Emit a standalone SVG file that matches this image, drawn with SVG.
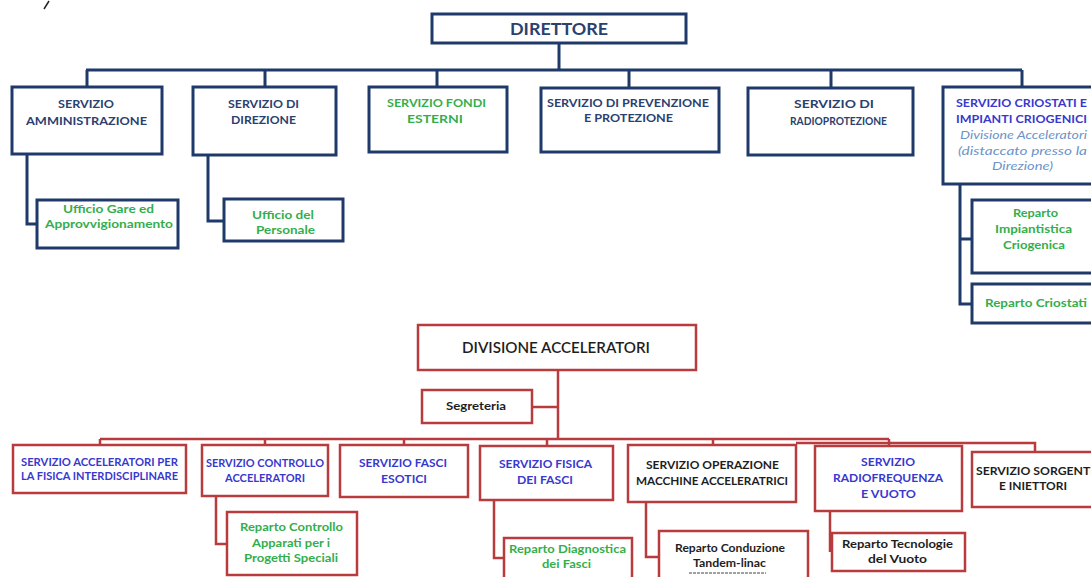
<svg xmlns="http://www.w3.org/2000/svg" width="1091" height="577" viewBox="0 0 1091 577">
<style>
.nb{fill:#fff;stroke:#1F3A6A;stroke-width:3}
.rb{fill:#fff;stroke:#B83B3E;stroke-width:2.5}
.nc{fill:none;stroke:#1F3A6A;stroke-width:3}
.rc{fill:none;stroke:#B83B3E;stroke-width:2.5}
text{font-family:Lato,"Liberation Sans",sans-serif;font-weight:bold;font-size:12px;text-anchor:middle}
.nv{fill:#2A4170}
.gr{fill:#34AE4C}
.bl{fill:#3838CF}
.bk{fill:#1E1E1E}
.it{fill:#6C93C9;font-style:italic;font-weight:normal}
</style>
<rect width="1091" height="577" fill="#fff"/>
<line x1="44" y1="9" x2="49" y2="1" stroke="#222" stroke-width="1.5"/>
<g id="connectors">
<path class="nc" d="M559,43V70M86,70H1022M87,70V87M265,70V87M437,70V87M629,70V88M831,70V88M1022,70V87"/>
<path class="nc" d="M27,154V224H37M208,155V221H224M960,184V304H972M960,239H972"/>
<path class="rc" d="M558,370V439M532,407H558M100,439H889M100,439V445M265,439V445M404,439V445M547,439V446M713,439V445M889,439V446M796,443H1035V452"/>
<path class="rc" d="M216,496V544H227M494,500V558H504M646,502V557H659M830,511V552"/>
</g>
<g id="direttore"><rect class="nb" x="432" y="14" width="254" height="29"/><text class="nv" x="559" y="35" style="font-size:17px" textLength="98" lengthAdjust="spacingAndGlyphs">DIRETTORE</text></g>
<g id="amministrazione"><rect class="nb" x="12" y="87" width="150" height="67"/><text class="nv" x="86" y="108" textLength="56" lengthAdjust="spacingAndGlyphs">SERVIZIO</text><text class="nv" x="86.5" y="125" textLength="121" lengthAdjust="spacingAndGlyphs">AMMINISTRAZIONE</text></g>
<g id="direzione"><rect class="nb" x="193" y="87" width="143" height="68"/><text class="nv" x="263.5" y="108" textLength="71" lengthAdjust="spacingAndGlyphs">SERVIZIO DI</text><text class="nv" x="263.5" y="124" textLength="65" lengthAdjust="spacingAndGlyphs">DIREZIONE</text></g>
<g id="fondi"><rect class="nb" x="369" y="87" width="138" height="65"/><text class="gr" x="436.5" y="107" textLength="99" lengthAdjust="spacingAndGlyphs">SERVIZIO FONDI</text><text class="gr" x="435" y="123" textLength="56" lengthAdjust="spacingAndGlyphs">ESTERNI</text></g>
<g id="prevenzione"><rect class="nb" x="541" y="88" width="178" height="64"/><text class="nv" x="628" y="107" textLength="162" lengthAdjust="spacingAndGlyphs">SERVIZIO DI PREVENZIONE</text><text class="nv" x="628.5" y="122" textLength="89" lengthAdjust="spacingAndGlyphs">E PROTEZIONE</text></g>
<g id="radioprotezione"><rect class="nb" x="748" y="88" width="165" height="67"/><text class="nv" x="834" y="108" textLength="80" lengthAdjust="spacingAndGlyphs">SERVIZIO DI</text><text class="nv" x="838.5" y="125" textLength="97" lengthAdjust="spacingAndGlyphs">RADIOPROTEZIONE</text></g>
<g id="criostati"><rect class="nb" x="943" y="87" width="160" height="97"/><text class="bl" x="1021.5" y="107" textLength="131" lengthAdjust="spacingAndGlyphs">SERVIZIO CRIOSTATI E</text><text class="bl" x="1021.5" y="123" textLength="131" lengthAdjust="spacingAndGlyphs">IMPIANTI CRIOGENICI</text><text class="it" x="1023.5" y="139" textLength="127" lengthAdjust="spacingAndGlyphs">Divisione Acceleratori</text><text class="it" x="1022.5" y="155" textLength="129" lengthAdjust="spacingAndGlyphs">(distaccato presso la</text><text class="it" x="1022.5" y="170" textLength="61" lengthAdjust="spacingAndGlyphs">Direzione)</text></g>
<g id="ufficio-gare"><rect class="nb" x="37" y="200" width="141" height="48"/><text class="gr" x="108.5" y="213" textLength="91" lengthAdjust="spacingAndGlyphs">Ufficio Gare ed</text><text class="gr" x="109" y="228" textLength="128" lengthAdjust="spacingAndGlyphs">Approvvigionamento</text></g>
<g id="ufficio-personale"><rect class="nb" x="224" y="199" width="119" height="42"/><text class="gr" x="283" y="219" textLength="62" lengthAdjust="spacingAndGlyphs">Ufficio del</text><text class="gr" x="285.5" y="234" textLength="59" lengthAdjust="spacingAndGlyphs">Personale</text></g>
<g id="reparto-impiantistica"><rect class="nb" x="972" y="200" width="130" height="73"/><text class="gr" x="1035.5" y="217" textLength="45" lengthAdjust="spacingAndGlyphs">Reparto</text><text class="gr" x="1033.5" y="233" textLength="77" lengthAdjust="spacingAndGlyphs">Impiantistica</text><text class="gr" x="1034" y="249" textLength="62" lengthAdjust="spacingAndGlyphs">Criogenica</text></g>
<g id="reparto-criostati"><rect class="nb" x="972" y="284" width="130" height="39"/><text class="gr" x="1036" y="307" textLength="102" lengthAdjust="spacingAndGlyphs">Reparto Criostati</text></g>
<g id="divisione"><rect class="rb" x="418" y="325" width="278" height="45"/><text class="bk" x="556" y="353" style="font-size:16px;font-weight:600" textLength="188" lengthAdjust="spacingAndGlyphs">DIVISIONE ACCELERATORI</text></g>
<g id="segreteria"><rect class="rb" x="422" y="390" width="110" height="33"/><text class="bk" x="476" y="410" textLength="60" lengthAdjust="spacingAndGlyphs">Segreteria</text></g>
<g id="fisica-interdisciplinare"><rect class="rb" x="13" y="445" width="173" height="48"/><text class="bl" x="99.5" y="466" textLength="157" lengthAdjust="spacingAndGlyphs">SERVIZIO ACCELERATORI PER</text><text class="bl" x="99.5" y="480" textLength="157" lengthAdjust="spacingAndGlyphs">LA FISICA INTERDISCIPLINARE</text></g>
<g id="controllo"><rect class="rb" x="202" y="445" width="126" height="51"/><text class="bl" x="265" y="467" textLength="118" lengthAdjust="spacingAndGlyphs">SERVIZIO CONTROLLO</text><text class="bl" x="265" y="482" textLength="80" lengthAdjust="spacingAndGlyphs">ACCELERATORI</text></g>
<g id="reparto-controllo"><rect class="rb" x="227" y="512" width="130" height="63"/><text class="gr" x="291.5" y="531" textLength="103" lengthAdjust="spacingAndGlyphs">Reparto Controllo</text><text class="gr" x="291" y="547" textLength="78" lengthAdjust="spacingAndGlyphs">Apparati per i</text><text class="gr" x="291" y="562" textLength="94" lengthAdjust="spacingAndGlyphs">Progetti Speciali</text></g>
<g id="fasci-esotici"><rect class="rb" x="340" y="445" width="128" height="52"/><text class="bl" x="403" y="467" textLength="88" lengthAdjust="spacingAndGlyphs">SERVIZIO FASCI</text><text class="bl" x="404" y="483" textLength="46" lengthAdjust="spacingAndGlyphs">ESOTICI</text></g>
<g id="fisica-fasci"><rect class="rb" x="480" y="446" width="133" height="54"/><text class="bl" x="545.5" y="468" textLength="93" lengthAdjust="spacingAndGlyphs">SERVIZIO FISICA</text><text class="bl" x="545" y="484" textLength="56" lengthAdjust="spacingAndGlyphs">DEI FASCI</text></g>
<g id="reparto-diagnostica"><rect class="rb" x="504" y="538" width="128" height="52"/><text class="gr" x="567.5" y="553" textLength="117" lengthAdjust="spacingAndGlyphs">Reparto Diagnostica</text><text class="gr" x="566.5" y="568" textLength="49" lengthAdjust="spacingAndGlyphs">dei Fasci</text></g>
<g id="operazione"><rect class="rb" x="628" y="445" width="168" height="57"/><text class="bk" x="712.5" y="469" textLength="133" lengthAdjust="spacingAndGlyphs">SERVIZIO OPERAZIONE</text><text class="bk" x="712" y="485" textLength="152" lengthAdjust="spacingAndGlyphs">MACCHINE ACCELERATRICI</text></g>
<g id="reparto-conduzione"><rect class="rb" x="659" y="531" width="149" height="59"/><text class="bk" x="730" y="552" textLength="110" lengthAdjust="spacingAndGlyphs">Reparto Conduzione</text><text class="bk" x="729.5" y="567" textLength="73" lengthAdjust="spacingAndGlyphs">Tandem-linac</text><line x1="689" y1="573" x2="766" y2="573" stroke="#444" stroke-width="1" stroke-dasharray="3 1"/></g>
<g id="radiofrequenza"><rect class="rb" x="815" y="446" width="147" height="65"/><text class="bl" x="888" y="466" textLength="54" lengthAdjust="spacingAndGlyphs">SERVIZIO</text><text class="bl" x="888" y="482" textLength="110" lengthAdjust="spacingAndGlyphs">RADIOFREQUENZA</text><text class="bl" x="888.5" y="498" textLength="55" lengthAdjust="spacingAndGlyphs">E VUOTO</text></g>
<g id="reparto-tecnologie"><rect class="rb" x="832" y="533" width="133" height="38"/><text class="bk" x="897.5" y="548" textLength="111" lengthAdjust="spacingAndGlyphs">Reparto Tecnologie</text><text class="bk" x="897.5" y="563" textLength="59" lengthAdjust="spacingAndGlyphs">del Vuoto</text></g>
<g id="sorgenti"><rect class="rb" x="972" y="452" width="130" height="55"/><text class="bk" x="976" y="475" style="text-anchor:start" textLength="118" lengthAdjust="spacingAndGlyphs">SERVIZIO SORGENTI</text><text class="bk" x="1033" y="490" textLength="68" lengthAdjust="spacingAndGlyphs">E INIETTORI</text></g>
</svg>
